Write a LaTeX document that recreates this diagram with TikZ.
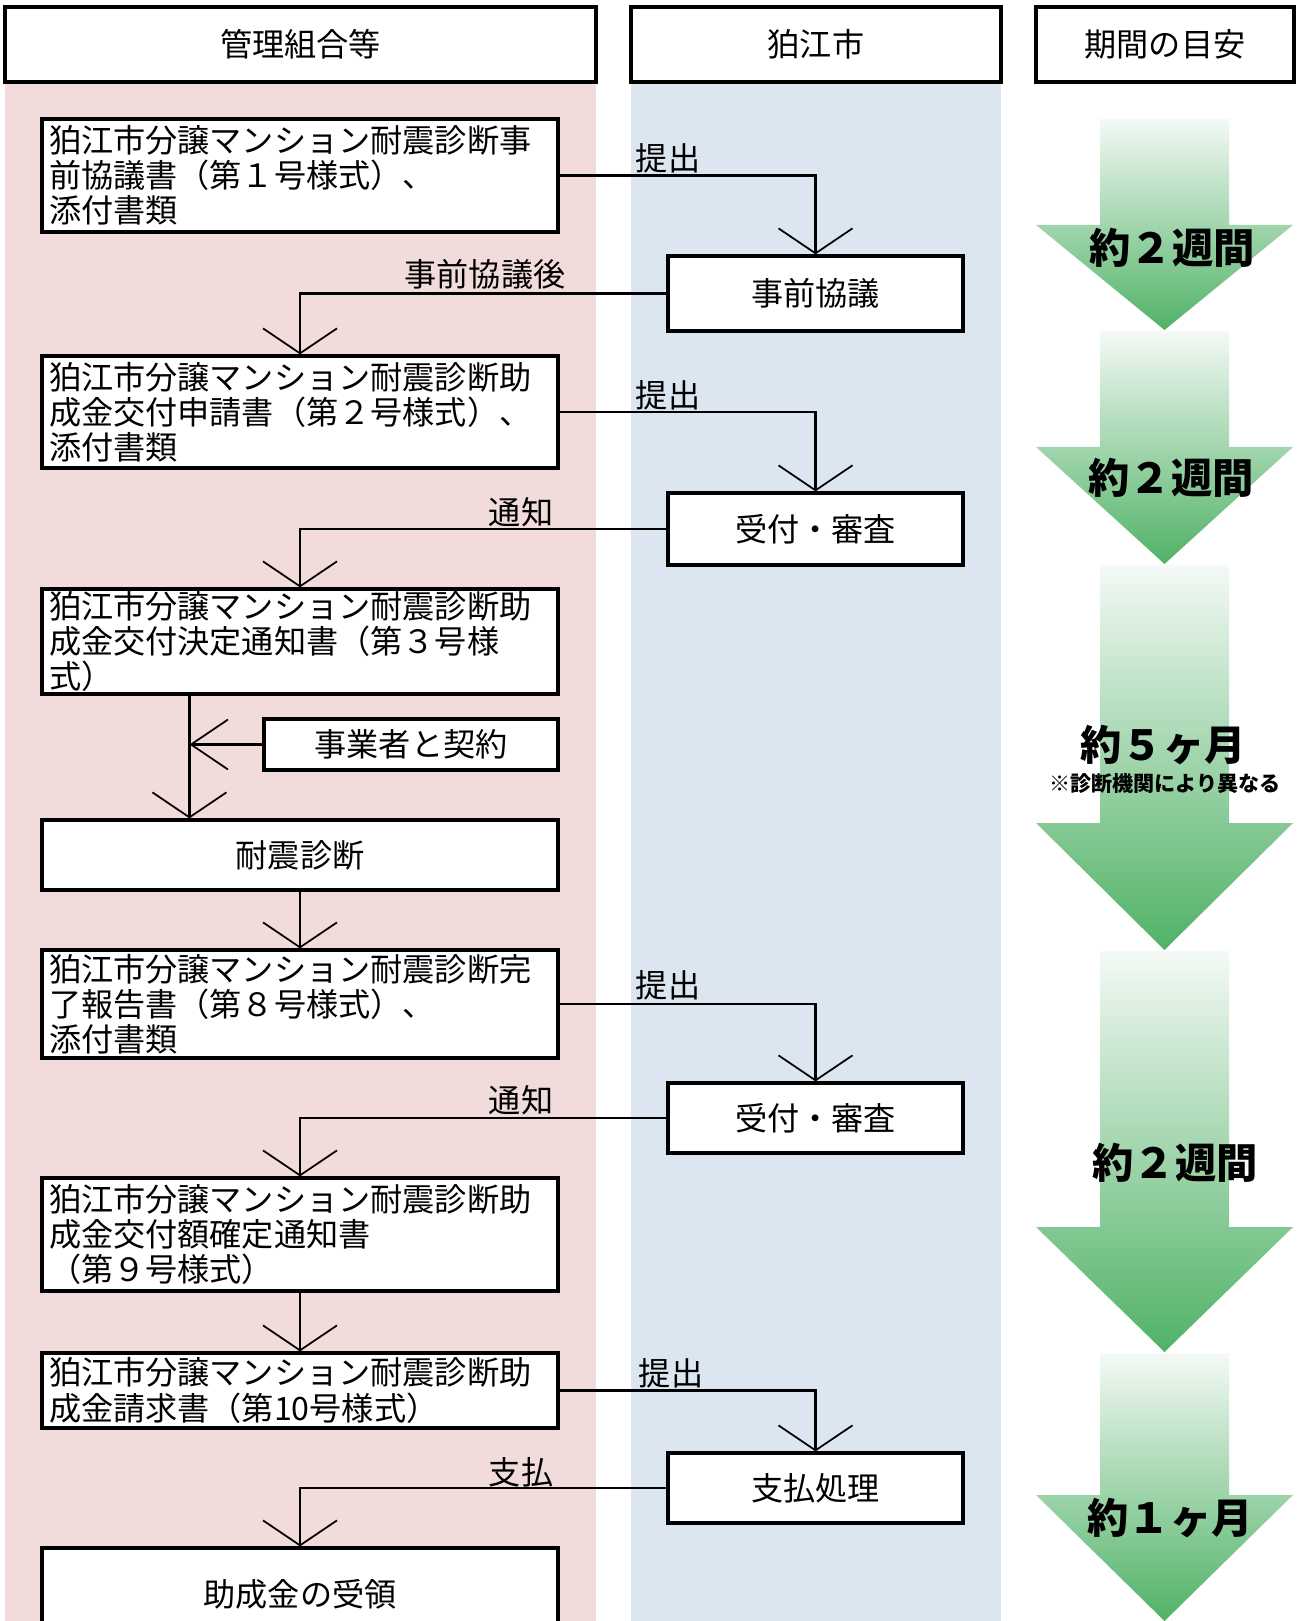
\documentclass[tikz,border=0pt]{standalone}
\usepackage{fontspec}
\usetikzlibrary{arrows.meta,positioning,calc}
\newfontfamily\jp{Noto Sans CJK JP}

\definecolor{rosa}{RGB}{242,220,219}
\definecolor{azul}{RGB}{220,230,241}
\definecolor{verdeA}{RGB}{244,249,245}
\definecolor{verdeB}{RGB}{80,178,102}

\begin{document}
\begin{tikzpicture}[x=0.02cm, y=-0.02cm, line width=1.5pt,
    font=\jp\fontsize{18.3pt}{20pt}\selectfont]
            % Estilos
            \tikzstyle{caixa}=[draw, fill=white, line width=1.8pt, inner sep=0pt]
            \tikzstyle{doc}=[caixa, minimum width=10.32cm, inner xsep=0.14cm, text width=10.04cm, align=left]
            \tikzstyle{seta}=[-{Straight Barb[length=0.5cm, width=1.48cm, line width=1pt]}]
            \tikzstyle{setah}=[-{Straight Barb[length=0.74cm, width=1.0cm, line width=1pt]}]
            \tikzstyle{verde}=[top color=verdeA, bottom color=verdeB, draw=none]
            \tikzstyle{prazo}=[font=\jp\bfseries\fontsize{23.5pt}{26pt}\selectfont]

            \useasboundingbox (0,0) rectangle (1298,1621);

            % Colunas
            \fill[rosa] (5,82) rectangle (596,1621);
            \fill[azul] (631,82) rectangle (1001,1621);
            \node[caixa, minimum width=11.82cm, minimum height=1.5cm] (h1) at (300.5,44.5) {管理組合等};
            \node[caixa, minimum width=7.4cm, minimum height=1.5cm] (h2) at (816,44.5) {狛江市};
            \node[caixa, minimum width=5.16cm, minimum height=1.5cm] (h3) at (1165,44.5) {期間の目安};

            % Setas verdes
            \shade[verde] (1100,119) -- (1229,119) -- (1229,225) -- (1293,225) -- (1164.5,330) -- (1036,225) -- (1100,225) -- cycle;
            \shade[verde] (1100,331) -- (1229,331) -- (1229,447) -- (1293,447) -- (1164.5,564) -- (1036,447) -- (1100,447) -- cycle;
            \shade[verde] (1100,565) -- (1229,565) -- (1229,823) -- (1293,823) -- (1164.5,950) -- (1036,823) -- (1100,823) -- cycle;
            \shade[verde] (1100,951) -- (1229,951) -- (1229,1227) -- (1293,1227) -- (1164.5,1352) -- (1036,1227) -- (1100,1227) -- cycle;
            \shade[verde] (1100,1353) -- (1229,1353) -- (1229,1495) -- (1293,1495) -- (1164.5,1621) -- (1036,1495) -- (1100,1495) -- cycle;
            \node[prazo] (p1) at (1172,248) {約２週間};
            \node[prazo] (p2) at (1171,478) {約２週間};
            \node[prazo] (p3) at (1163,745) {約５ヶ月};
            \node[font=\jp\bfseries\fontsize{12pt}{14pt}\selectfont] (p3n) at (1165,784) {※診断機関により異なる};
            \node[prazo] (p4) at (1175,1163) {約２週間};
            \node[prazo] (p5) at (1170,1518) {約１ヶ月};

            % Nós
            \node[doc, minimum height=2.26cm] (b1) at (300,175.5) {狛江市分譲マンション耐震診断事\\前協議書（第１号様式）、\\添付書類};
            \node[caixa, minimum width=5.9cm, minimum height=1.5cm] (r1) at (815.5,293.5) {事前協議};
            \node[doc, minimum height=2.24cm] (b2) at (300,412) {狛江市分譲マンション耐震診断助\\成金交付申請書（第２号様式）、\\添付書類};
            \node[caixa, minimum width=5.9cm, minimum height=1.44cm] (r2) at (815.5,529) {受付・審査};
            \node[doc, minimum height=2.1cm] (b3) at (300,641.5) {狛江市分譲マンション耐震診断助\\成金交付決定通知書（第３号様\\式）};
            \node[caixa, minimum width=5.88cm, minimum height=1.02cm] (kk) at (411,744.5) {事業者と契約};
            \node[caixa, minimum width=10.32cm, minimum height=1.4cm] (dg) at (300,855) {耐震診断};
            \node[doc, minimum height=2.16cm] (b8) at (300,1004) {狛江市分譲マンション耐震診断完\\了報告書（第８号様式）、\\添付書類};
            \node[caixa, minimum width=5.9cm, minimum height=1.4cm] (r3) at (815.5,1118) {受付・審査};
            \node[doc, minimum height=2.26cm] (b9) at (300,1234.5) {狛江市分譲マンション耐震診断助\\成金交付額確定通知書\\（第９号様式）};
            \node[doc, minimum height=1.5cm] (b10) at (300,1390.5) {狛江市分譲マンション耐震診断助\\成金請求書（第10号様式）};
            \node[caixa, minimum width=5.9cm, minimum height=1.4cm] (r4) at (815.5,1488) {支払処理};
            \node[caixa, minimum width=10.32cm, minimum height=1.84cm] (b11) at (300,1594) {助成金の受領};

            % Rótulos
            \node (l1) at (668,158) {提出};
            \node (l2) at (485,274) {事前協議後};
            \node (l3) at (668,395) {提出};
            \node (l4) at (521,512) {通知};
            \node (l5) at (668,985) {提出};
            \node (l6) at (521,1100) {通知};
            \node (l7) at (671,1373) {提出};
            \node (l8) at (521,1472) {支払};

            % Arestas
            \draw[seta] (b1.east) -| (r1.north);
            \draw[seta] (r1.west) -| (b2.north);
            \draw[seta] (b2.east) -| (r2.north);
            \draw[seta] (r2.west) -| (b3.north);
            \coordinate (t3) at ($(b3.south west)!0.287!(b3.south east)$);
            \draw[seta] (t3) -- (t3 |- dg.north);
            \draw[setah] (kk.west) -- (kk.west -| t3);
            \draw[seta] (dg.south) -- (b8.north);
            \draw[seta] (b8.east) -| (r3.north);
            \draw[seta] (r3.west) -| (b9.north);
            \draw[seta] (b9.south) -- (b10.north);
            \draw[seta] (b10.east) -| (r4.north);
            \draw[seta] (r4.west) -| (b11.north);
\end{tikzpicture}
\end{document}
